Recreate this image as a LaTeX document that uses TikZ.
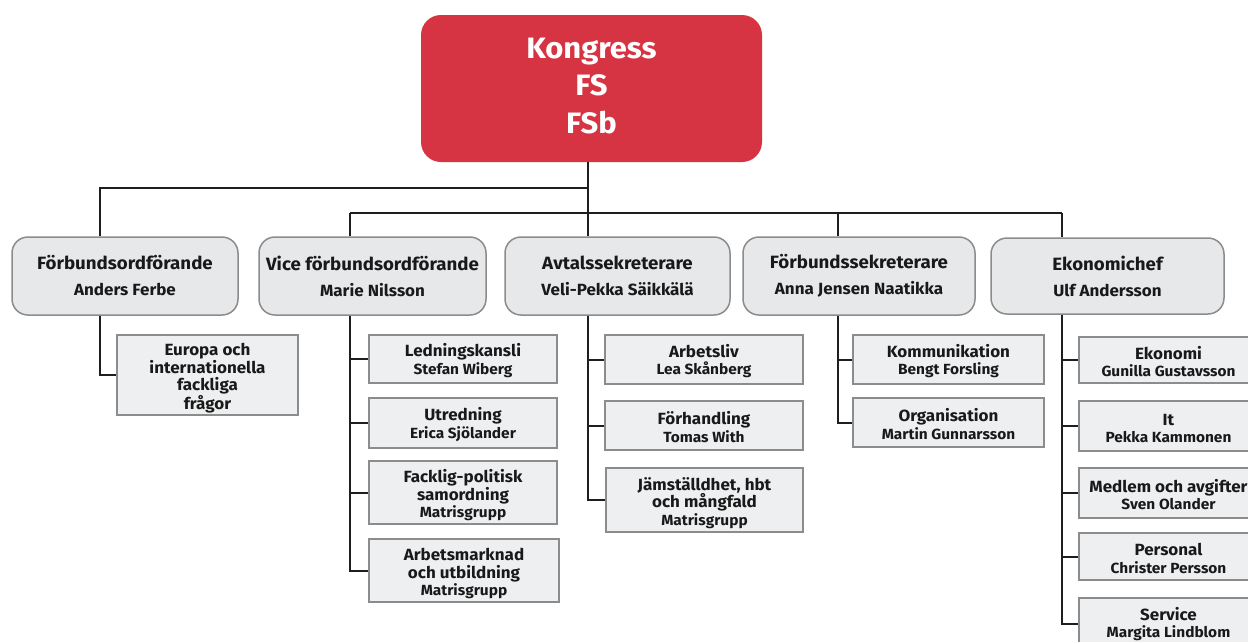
\documentclass[tikz,border=0pt]{standalone}
\usepackage{fontspec}
\setmainfont{Fira Sans}[FakeStretch=1.05]
\usetikzlibrary{calc}
\definecolor{kred}{RGB}{214,52,67}
\definecolor{lvtwo}{RGB}{230,232,233}
\definecolor{lvthree}{RGB}{238,239,240}
\definecolor{bord}{RGB}{140,140,140}
\definecolor{conncol}{RGB}{30,30,30}
\tikzset{
  topbox/.style={fill=kred, draw=none, rounded corners=20pt, text=white, align=center, inner sep=0pt,
     font=\fontsize{29.5}{37.5}\selectfont\bfseries},
  mainbox/.style={fill=lvtwo, draw=bord, line width=1.5pt, rounded corners=16pt, align=center, inner sep=0pt,
     font=\fontsize{17.8}{26}\selectfont\bfseries, text=black!90},
  subbox/.style={fill=lvthree, draw=bord, line width=2pt, align=center, inner sep=0pt,
     font=\fontsize{16.2}{17.6}\selectfont\bfseries, text=black!90},
  conn/.style={draw=conncol, line width=2pt}
}
\newcommand{\nmtwo}[1]{{\fontsize{16.2}{16.2}\selectfont #1}}
\newcommand{\nmthree}[1]{{\fontsize{14.7}{14.7}\selectfont #1}}
\newcommand{\strA}{\rule{0pt}{16pt}}
\newcommand{\strB}{\rule{0pt}{18.5pt}}
\begin{document}
\begin{tikzpicture}[x=1pt,y=-1pt]
\useasboundingbox (0,0) rectangle (1248,641);
\clip (0,0) rectangle (1248,641);
\fill[white] (0,0) rectangle (1248,641);

% top
\node[topbox, minimum width=341, minimum height=147] (K) at (591.5,88.5) {Kongress\\FS\\FSb\rule[-6pt]{0pt}{0pt}};

% level 2
\node[mainbox, minimum width=226, minimum height=78] (A) at (125,276) {Förbundsordförande\\\nmtwo{Anders Ferbe}};
\node[mainbox, minimum width=227, minimum height=78] (B) at (372.5,276) {Vice förbundsordförande\\\nmtwo{Marie Nilsson}};
\node[mainbox, minimum width=225, minimum height=78] (C) at (617.5,276) {Avtalssekreterare\\\nmtwo{Veli-Pekka Säikkälä}};
\node[mainbox, minimum width=232, minimum height=78] (D) at (859,276) {Förbundssekreterare\\\nmtwo{Anna Jensen Naatikka}};
\node[mainbox, minimum width=233, minimum height=76] (E) at (1107.5,276) {Ekonomichef\\\nmtwo{Ulf Andersson}};

% level 3
\node[subbox, minimum width=181, minimum height=80] (A1) at (207.5,375) {\strB Europa och\\internationella\\fackliga\\frågor};

\node[subbox, minimum width=188, minimum height=48] (B1) at (463,359) {\strA Ledningskansli\\\nmthree{Stefan Wiberg}};
\node[subbox, minimum width=188, minimum height=50] (B2) at (463,423) {\strA Utredning\\\nmthree{Erica Sjölander}};
\node[subbox, minimum width=188, minimum height=63] (B3) at (463,492.5) {\strB Facklig-politisk\\samordning\\\nmthree{Matrisgrupp}};
\node[subbox, minimum width=190, minimum height=63] (B4) at (464,570.5) {\strB Arbetsmarknad\\och utbildning\\\nmthree{Matrisgrupp}};

\node[subbox, minimum width=198, minimum height=49] (C1) at (704,359.5) {\strA Arbetsliv\\\nmthree{Lea Skånberg}};
\node[subbox, minimum width=198, minimum height=49] (C2) at (704,425.5) {\strA Förhandling\\\nmthree{Tomas With}};
\node[subbox, minimum width=197, minimum height=64] (C3) at (704.5,500) {\strB Jämställdhet, hbt\\och mångfald\\\nmthree{Matrisgrupp}};

\node[subbox, minimum width=191, minimum height=49] (D1) at (948.5,359.5) {\strA Kommunikation\\\nmthree{Bengt Forsling}};
\node[subbox, minimum width=191, minimum height=49] (D2) at (948.5,422.5) {\strA Organisation\\\nmthree{Martin Gunnarsson}};

\node[subbox, minimum width=179, minimum height=46] (E1) at (1168.5,360) {\strA Ekonomi\\\nmthree{Gunilla Gustavsson}};
\node[subbox, minimum width=179, minimum height=50] (E2) at (1168.5,426) {\strA It\\\nmthree{Pekka Kammonen}};
\node[subbox, minimum width=179, minimum height=50] (E3) at (1168.5,493) {\strA Medlem och avgifter\\\nmthree{Sven Olander}};
\node[subbox, minimum width=179, minimum height=47] (E4) at (1168.5,556.5) {\strA Personal\\\nmthree{Christer Persson}};
\node[subbox, minimum width=179, minimum height=52] (E5) at (1168.5,624) {Service\\\nmthree{Margita Lindblom}};

% trunk coordinates
\coordinate (tA) at (100,0);
\coordinate (tB) at (350,0);
\coordinate (tC) at (588,0);
\coordinate (tD) at (838,0);
\coordinate (tE) at (1062,0);
\coordinate (h1) at (588,188);
\coordinate (h2) at (588,213);

% top connectors
\draw[conn] (K.south -| tC) -- (tC |- C.north);
\draw[conn] (h1) -| (tA |- A.north);
\draw[conn] (h2 -| tB) -- (h2 -| tE);
\draw[conn] (h2 -| tB) -- (tB |- B.north);
\draw[conn] (h2 -| tD) -- (tD |- D.north);
\draw[conn] (h2 -| tE) -- (tE |- E.north);

% sub connectors
\draw[conn] (tA |- A.south) |- (A1.west);
\foreach \n in {B1,B2,B3,B4} \draw[conn] (tB |- B.south) |- (\n.west);
\foreach \n in {C1,C2,C3} \draw[conn] (tC |- C.south) |- (\n.west);
\foreach \n in {D1,D2} \draw[conn] (tD |- D.south) |- (\n.west);
\foreach \n in {E1,E2,E3,E4,E5} \draw[conn] (tE |- E.south) |- (\n.west);
\end{tikzpicture}
\end{document}
